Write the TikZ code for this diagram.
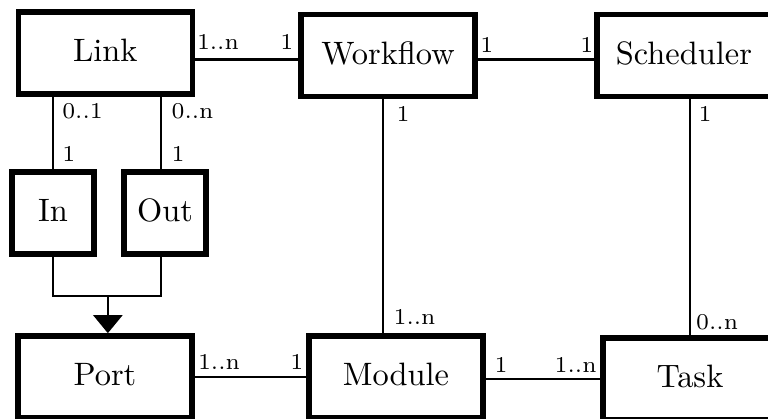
\documentclass[tikz,border=0pt]{standalone}
\usepackage{tikz}
\usetikzlibrary{arrows.meta}

\begin{document}
\begin{tikzpicture}[
        entity/.style={draw, line width=1.7pt, minimum width=1.887cm, minimum height=0.889cm,
                       inner sep=0pt, text height=8.5pt, text depth=3pt},
        smallentity/.style={entity, minimum width=0.889cm},
        mult/.style={anchor=base west, inner sep=0pt, font=\scriptsize},
        thick]
                    \useasboundingbox (0,0) rectangle (8.331,4.545);
                    % entities
                    \node[entity] (Link)      at (1.143,3.971) {Link};
                    \node[entity] (Workflow)  at (4.209,3.943) {Workflow};
                    \node[entity] (Scheduler) at (7.419,3.943) {Scheduler};
                    \node[smallentity] (In)   at (0.575,2.234) {In};
                    \node[smallentity] (Out)  at (1.790,2.234) {Out};
                    \node[entity] (Port)      at (1.139,0.456) {Port};
                    \node[entity] (Module)    at (4.295,0.456) {Module};
                    \node[entity] (Task)      at (7.484,0.434) {Task};
                    % connector rows and columns
                    \coordinate (rowA)  at (0,3.900);
                    \coordinate (colO)  at (1.746,0);
                    \coordinate (colW)  at (4.154,0);
                    \coordinate (joint) at (1.170,1.334);
                    \draw (Link.east |- rowA) -- (Workflow.west |- rowA);
                    \draw (Workflow.east |- rowA) -- (Scheduler.west |- rowA);
                    \draw (In.north) -- (In.north |- Link.south);
                    \draw (Out.north -| colO) -- (Link.south -| colO);
                    \draw (Workflow.south -| colW) -- (Module.north -| colW);
                    \draw (Task.north) -- (Task.north |- Scheduler.south);
                    \draw (Port) -- (Module);
                    \draw (Module.east |- Task.west) -- (Task.west);
                    \draw (In.south) |- (joint) -| (Out.south -| colO);
                    \draw[-{Triangle[width=9pt,length=5.6pt]}] (joint) -- (Port.north -| joint);
                    % multiplicities
                    \node[mult] (mLinkWf)  at (2.123,4.003) {1..n};
                    \node[mult] (mWfLink)  at (3.027,4.003) {1};
                    \node[mult] (mWfSch)   at (5.197,3.973) {1};
                    \node[mult] (mSchWf)   at (6.281,3.973) {1};
                    \node[mult] (mLinkIn)  at (0.662,3.262) {0..1};
                    \node[mult] (mInLink)  at (0.662,2.793) {1};
                    \node[mult] (mLinkOut) at (1.848,3.262) {0..n};
                    \node[mult] (mOutLink) at (1.848,2.793) {1};
                    \node[mult] (mWfMod)   at (4.289,3.225) {1};
                    \node[mult] (mSchTask) at (7.565,3.225) {1};
                    \node[mult] (mModWf)   at (4.256,1.020) {1..n};
                    \node[mult] (mTaskSch) at (7.538,0.973) {0..n};
                    \node[mult] (mPortMod) at (2.134,0.532) {1..n};
                    \node[mult] (mModPort) at (3.136,0.532) {1};
                    \node[mult] (mModTask) at (5.352,0.502) {1};
                    \node[mult] (mTaskMod) at (6.003,0.502) {1..n};
                \end{tikzpicture}
\end{document}
